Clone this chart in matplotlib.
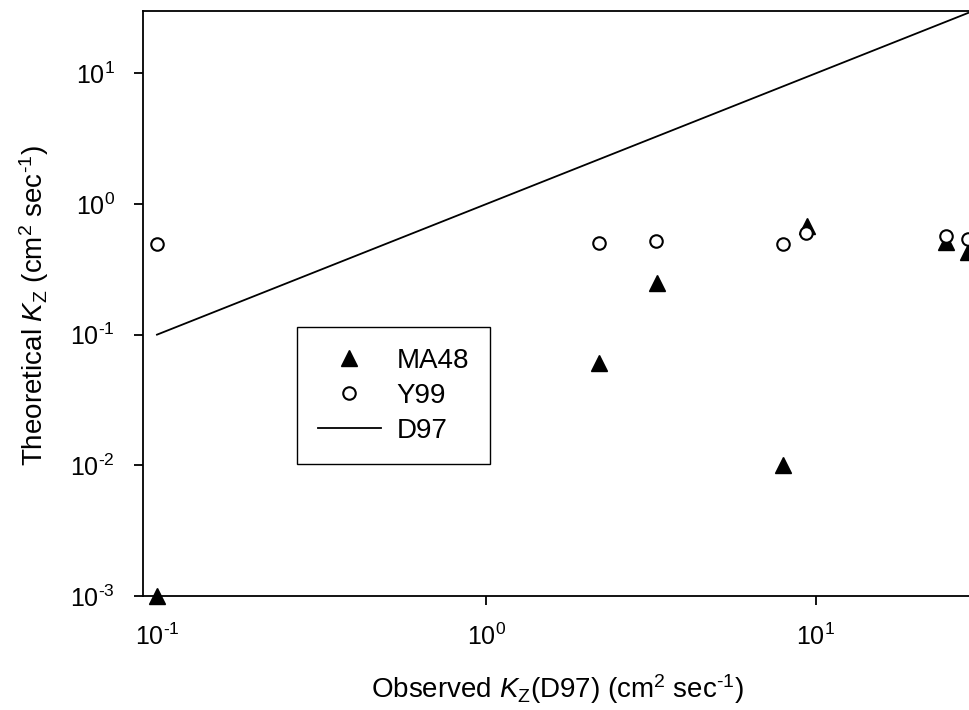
import numpy as np
import matplotlib
matplotlib.use('Agg')
import matplotlib.pyplot as plt
from matplotlib.ticker import FuncFormatter

plt.rcParams['font.family'] = ['Liberation Sans', 'DejaVu Sans']
plt.rcParams['mathtext.fontset'] = 'custom'
plt.rcParams['mathtext.rm'] = 'Liberation Sans'
plt.rcParams['mathtext.it'] = 'Liberation Sans:italic'
plt.rcParams['mathtext.default'] = 'regular'

# observed Kz (D97) and theoretical estimates
obs_ma48 = [0.1, 2.2, 3.3, 7.95, 9.4, 24.8, 28.9]
ma48 = [0.001, 0.061, 0.25, 0.0101, 0.68, 0.51, 0.43]

obs_y99 = [0.1, 2.19, 3.28, 7.93, 9.34, 24.8, 28.9]
y99 = [0.49, 0.505, 0.52, 0.49, 0.60, 0.57, 0.54]

obs_d97 = [0.1, 2.2, 3.3, 8.0, 9.5, 25.0, 29.0]
d97 = [0.1, 2.2, 3.3, 8.0, 9.5, 25.0, 29.0]

x_ticks = [0.1, 1, 10]
y_ticks = [1e-3, 1e-2, 1e-1, 1, 10]


def pow10(v, pos):
    e = int(round(np.log10(v)))
    if e < 0:
        return '10$^{\\text{-}%d}$' % (-e)
    return '10$^{%d}$' % e


fig = plt.figure(figsize=(9.7, 7.1), dpi=100)
ax = fig.add_axes([143/970, 114/710, 830/970, 585/710])

ax.plot(obs_ma48, ma48, '^', color='black', ms=11, ls='none', label='MA48', clip_on=False)
ax.plot(obs_y99, y99, 'o', mfc='white', mec='black', mew=1.5, ms=9, ls='none', label='Y99', clip_on=False)
ax.plot(obs_d97, d97, '-', color='black', lw=1.3, label='D97')

ax.set_xscale('log')
ax.set_yscale('log')
ax.set_xlim(0.0907, 30)
ax.set_ylim(1e-3, 30)
ax.minorticks_off()
ax.set_xticks(x_ticks)
ax.set_yticks(y_ticks)
ax.xaxis.set_major_formatter(FuncFormatter(pow10))
ax.yaxis.set_major_formatter(FuncFormatter(pow10))

ax.tick_params(direction='out', length=6.5, width=1.3, pad=13.5, labelsize=18)
for s in ['left', 'bottom', 'top']:
    ax.spines[s].set_linewidth(1.3)
ax.spines['right'].set_visible(False)

ax.set_xlabel('Observed $\\mathit{K}_Z$(D97) (cm$^2$ sec$^{\\text{-}1}$)', fontsize=20)
ax.set_ylabel('Theoretical $\\mathit{K}_Z$ (cm$^2$ sec$^{\\text{-}1}$)', fontsize=20)
ax.xaxis.set_label_coords(0.5, -0.13)
ax.yaxis.set_label_coords(-0.111, 0.497)

leg = ax.legend(loc='upper left', bbox_to_anchor=(0.1855, 0.46), fontsize=20,
                fancybox=False, edgecolor='black', framealpha=1, borderaxespad=0,
                handlelength=2.27, labelspacing=0.32, borderpad=0.75, handletextpad=0.57)
leg.get_frame().set_linewidth(1.0)

fig.savefig('out.png', dpi=100)
